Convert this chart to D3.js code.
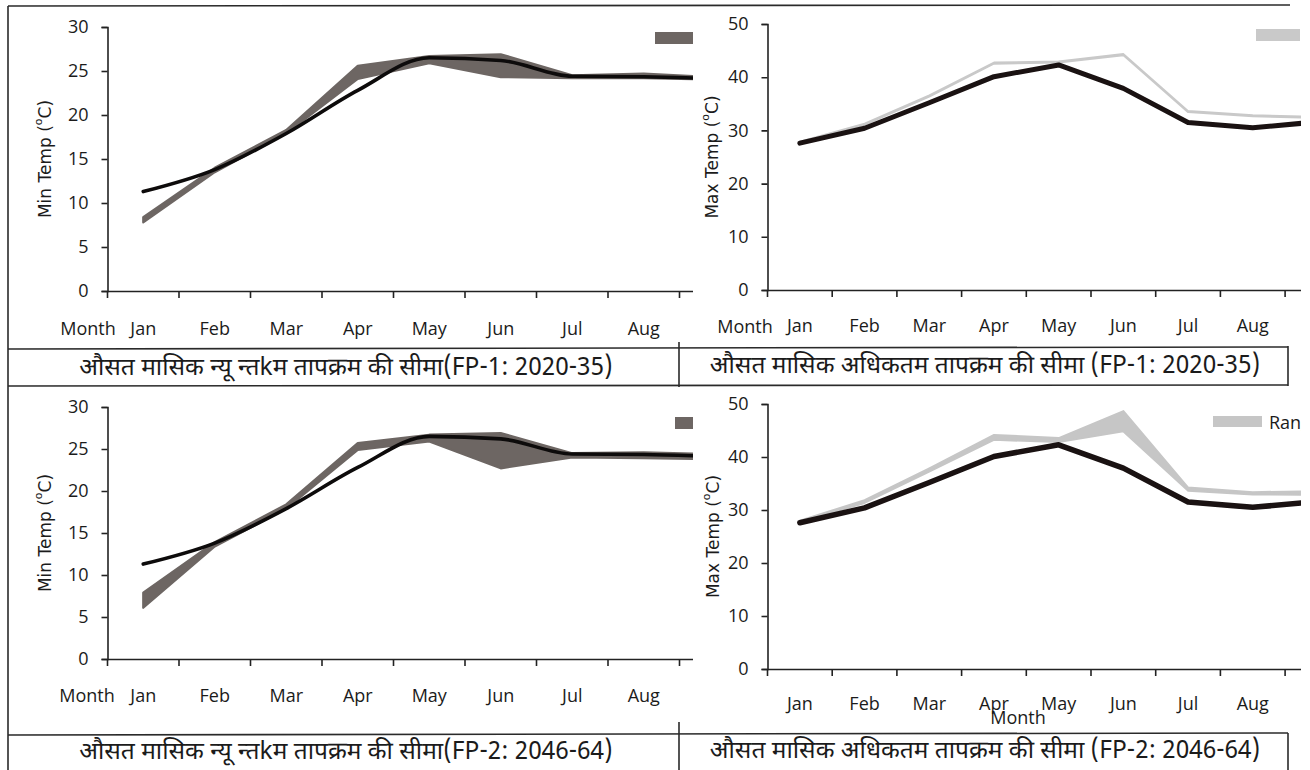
<!DOCTYPE html>
<html>
<head>
<meta charset="utf-8">
<script src="https://cdn.jsdelivr.net/npm/d3@7"></script>
<style>
  body { margin: 0; background: #fff; }
  svg { display: block; }
</style>
</head>
<body>
<svg id="chart" width="1310" height="770"></svg>
<script>
// Months shown on the x axis (the axis runs past August and is cut at the frame edge)
const months = ["Jan", "Feb", "Mar", "Apr", "May", "Jun", "Jul", "Aug", "Sep"];

// Observed average monthly minimum temperature (°C)
const minObserved = [11.3, 13.8, 17.9, 22.8, 26.5, 26.2, 24.4, 24.35, 24.1];
// Projected range of minimum temperature, FP-1 (2020-35)
const minFP1Upper = [8.4, 14.0, 18.3, 25.6, 26.7, 26.9, 24.5, 24.7, 24.3];
const minFP1Lower = [7.8, 13.5, 17.9, 24.1, 25.9, 24.3, 24.2, 24.2, 24.0];
// Projected range of minimum temperature, FP-2 (2046-64)
const minFP2Upper = [7.9, 13.9, 18.4, 25.7, 26.7, 26.9, 24.5, 24.6, 24.4];
const minFP2Lower = [6.1, 13.4, 17.9, 24.9, 25.9, 22.7, 24.0, 23.9, 23.8];

// Observed average monthly maximum temperature (°C)
const maxObserved = [27.6, 30.4, 35.2, 40.1, 42.3, 37.9, 31.5, 30.5, 31.6];
// Projected range of maximum temperature, FP-1 (2020-35)
const maxFP1Upper = [27.9, 31.3, 36.6, 42.8, 43.0, 44.4, 33.7, 32.9, 32.6];
const maxFP1Lower = [27.7, 31.0, 36.3, 42.5, 42.7, 44.1, 33.4, 32.6, 32.3];
// Projected range of maximum temperature, FP-2 (2046-64)
const maxFP2Upper = [28.0, 31.9, 37.9, 44.2, 43.6, 48.7, 34.3, 33.4, 33.6];
const maxFP2Lower = [27.7, 31.3, 37.2, 43.2, 42.8, 44.8, 33.6, 32.9, 32.8];

// Axis tick values
const minTicks = [0, 5, 10, 15, 20, 25, 30];
const maxTicks = [0, 10, 20, 30, 40, 50];

// Captions below each chart
const captions = [
  "औसत मासिक न्यू न्तkम तापक्रम की सीमा(FP-1: 2020-35)",
  "औसत मासिक अधिकतम तापक्रम की सीमा (FP-1: 2020-35)",
  "औसत मासिक न्यू न्तkम तापक्रम की सीमा(FP-2: 2046-64)",
  "औसत मासिक अधिकतम तापक्रम की सीमा (FP-2: 2046-64)"
];
const legendLabel = "Range";

const svg = d3.select("#chart");
const tickFont = "'Open Sans', 'Liberation Sans', sans-serif";
const titleFont = "'DejaVu Sans', sans-serif";
const hindiFont = "'Noto Sans Devanagari', 'Noto Sans', 'Lohit Devanagari', sans-serif";

const panels = [
  { id: "tl", x0: 107.5, step: 71.5, clipRight: 693, yTop: 27, yBottom: 291, yMax: 30,
    ticks: minTicks, observed: minObserved, upper: minFP1Upper, lower: minFP1Lower,
    bandColor: "#6d6663", bandStroke: 2.2, lineColor: "#0d0b0b", lineWidth: 3.6, smooth: true,
    yTitle: "Min Temp (", yTitleX: 45, pad: 31,
    month: { x: 88, y: 328 }, legend: { x: 655, y: 32, w: 38, h: 12 }, caption: 0 },
  { id: "tr", x0: 767.5, step: 64.7, clipRight: 1301, yTop: 24, yBottom: 290, yMax: 50,
    ticks: maxTicks, observed: maxObserved, upper: maxFP1Upper, lower: maxFP1Lower,
    bandColor: "#c9c9c9", bandStroke: 1.5, lineColor: "#1a1212", lineWidth: 5, smooth: false,
    yTitle: "Max Temp (", yTitleX: 712, pad: 29,
    month: { x: 745, y: 326 }, legend: { x: 1256, y: 29, w: 44, h: 12 }, caption: 1 },
  { id: "bl", x0: 107.5, step: 71.5, clipRight: 693, yTop: 407, yBottom: 659, yMax: 30,
    ticks: minTicks, observed: minObserved, upper: minFP2Upper, lower: minFP2Lower,
    bandColor: "#6d6663", bandStroke: 2.2, lineColor: "#0d0b0b", lineWidth: 3.6, smooth: true,
    yTitle: "Min Temp (", yTitleX: 45, pad: 30,
    month: { x: 87, y: 695 }, legend: { x: 675, y: 417, w: 38, h: 12 }, caption: 2 },
  { id: "br", x0: 767.5, step: 64.7, clipRight: 1301, yTop: 404, yBottom: 669, yMax: 50,
    ticks: maxTicks, observed: maxObserved, upper: maxFP2Upper, lower: maxFP2Lower,
    bandColor: "#c6c6c6", bandStroke: 1.6, lineColor: "#1a1212", lineWidth: 5.5, smooth: false,
    yTitle: "Max Temp (", yTitleX: 713, pad: 28,
    month: { x: 1018, y: 717 }, legend: { x: 1213, y: 416, w: 49, h: 11 }, caption: 3 }
];

panels.forEach(p => {
  const x = d3.scaleBand()
    .domain(months)
    .range([p.x0, p.x0 + p.step * months.length])
    .paddingInner(0).paddingOuter(0);
  const y = d3.scaleLinear().domain([0, p.yMax]).range([p.yBottom, p.yTop]);
  const cx = i => x(months[i]) + x.bandwidth() / 2;

  svg.append("clipPath").attr("id", "clip-" + p.id)
    .append("rect")
    .attr("x", p.x0 - 110).attr("y", p.yTop - 20)
    .attr("width", p.clipRight - (p.x0 - 110)).attr("height", p.yBottom - p.yTop + 80);

  const g = svg.append("g").attr("clip-path", `url(#clip-${p.id})`);

  // y axis
  const yAxis = g.append("g")
    .attr("transform", `translate(${p.x0},0)`)
    .call(d3.axisLeft(y).tickValues(p.ticks).tickSize(6).tickPadding(13));
  yAxis.select(".domain").attr("stroke", "#222").attr("stroke-width", 1.6);
  yAxis.selectAll(".tick line").attr("stroke", "#222").attr("stroke-width", 1.6);
  yAxis.selectAll(".tick text")
    .attr("font-family", tickFont).attr("font-size", 18).attr("fill", "#1b1b1b");

  // x axis: labels only for months whose centre lies inside the frame,
  // tick marks on the month boundaries
  const shown = months.filter(m => x(m) + x.bandwidth() / 2 < p.clipRight);
  const xAxis = g.append("g")
    .attr("transform", `translate(0,${p.yBottom})`)
    .call(d3.axisBottom(x).tickValues(shown).tickSize(0).tickPadding(p.pad));
  xAxis.select(".domain").attr("stroke", "#222").attr("stroke-width", 1.6);
  xAxis.selectAll(".tick text")
    .attr("font-family", tickFont).attr("font-size", 18).attr("fill", "#1b1b1b");
  const bounds = months.map(m => x(m)).concat([x.range()[1]]);
  xAxis.selectAll("line.boundary").data(bounds).join("line")
    .attr("class", "boundary")
    .attr("x1", d => d).attr("x2", d => d)
    .attr("y1", 0).attr("y2", 7)
    .attr("stroke", "#222").attr("stroke-width", 1.6);

  // projected range band
  const area = d3.area()
    .x((d, i) => cx(i))
    .y0((d, i) => y(p.lower[i]))
    .y1((d, i) => y(p.upper[i]));
  g.append("path")
    .datum(p.upper)
    .attr("d", area)
    .attr("fill", p.bandColor)
    .attr("stroke", p.bandColor)
    .attr("stroke-width", p.bandStroke)
    .attr("stroke-linejoin", "round");

  // observed line
  const line = d3.line()
    .x((d, i) => cx(i))
    .y(d => y(d))
    .curve(p.smooth ? d3.curveMonotoneX : d3.curveLinear);
  g.append("path")
    .datum(p.observed)
    .attr("d", line)
    .attr("fill", "none")
    .attr("stroke", p.lineColor)
    .attr("stroke-width", p.lineWidth)
    .attr("stroke-linejoin", "round")
    .attr("stroke-linecap", "round");

  // legend entry (runs off the frame edge; the label only where part of it fits)
  g.append("rect")
    .attr("x", p.legend.x).attr("y", p.legend.y)
    .attr("width", p.legend.w).attr("height", p.legend.h)
    .attr("fill", p.bandColor);
  const lx = p.legend.x + p.legend.w + 7;
  if (lx < p.clipRight - 20) {
    g.append("text")
      .attr("x", lx)
      .attr("y", p.legend.y + p.legend.h / 2)
      .attr("dominant-baseline", "central")
      .attr("font-family", tickFont).attr("font-size", 18).attr("fill", "#1b1b1b")
      .text(legendLabel);
  }

  // "Month" axis title
  svg.append("text")
    .attr("x", p.month.x).attr("y", p.month.y)
    .attr("text-anchor", "middle").attr("dominant-baseline", "central")
    .attr("font-family", tickFont).attr("font-size", 18).attr("fill", "#1b1b1b")
    .text("Month");

  // y axis title with superscript degree mark
  const yt = svg.append("text")
    .attr("transform", `translate(${p.yTitleX},${(p.yTop + p.yBottom) / 2}) rotate(-90)`)
    .attr("text-anchor", "middle").attr("dominant-baseline", "central")
    .attr("font-family", titleFont).attr("font-size", 17).attr("fill", "#1b1b1b");
  yt.append("tspan").text(p.yTitle);
  yt.append("tspan").attr("baseline-shift", "super").attr("font-size", 11).text("o");
  yt.append("tspan").text("C)");
});

// Frame around the four charts and their caption rows
const frame = svg.append("g").attr("stroke", "#2a2a2a").attr("stroke-width", 1.6).attr("fill", "none");
const seg = (x1, y1, x2, y2) => frame.append("line").attr("x1", x1).attr("y1", y1).attr("x2", x2).attr("y2", y2);
seg(8, 6, 1290, 5);
seg(8, 6, 8, 770);
seg(8, 349, 1288, 347);
seg(8, 386, 1288, 385);
seg(679, 342, 679, 387);
seg(1288, 346, 1288, 386);
seg(8, 735, 1288, 733);
seg(679, 722, 679, 770);
seg(1288, 733, 1288, 770);

// Captions
const capPos = [
  { x: 346, y: 369 }, { x: 985, y: 367 },
  { x: 346, y: 753 }, { x: 985, y: 752 }
];
captions.forEach((c, i) => {
  svg.append("text")
    .attr("x", capPos[i].x).attr("y", capPos[i].y)
    .attr("text-anchor", "middle").attr("dominant-baseline", "central")
    .attr("font-family", hindiFont).attr("font-size", 24.5).attr("fill", "#1b1b1b")
    .text(c);
});
</script>
</body>
</html>
